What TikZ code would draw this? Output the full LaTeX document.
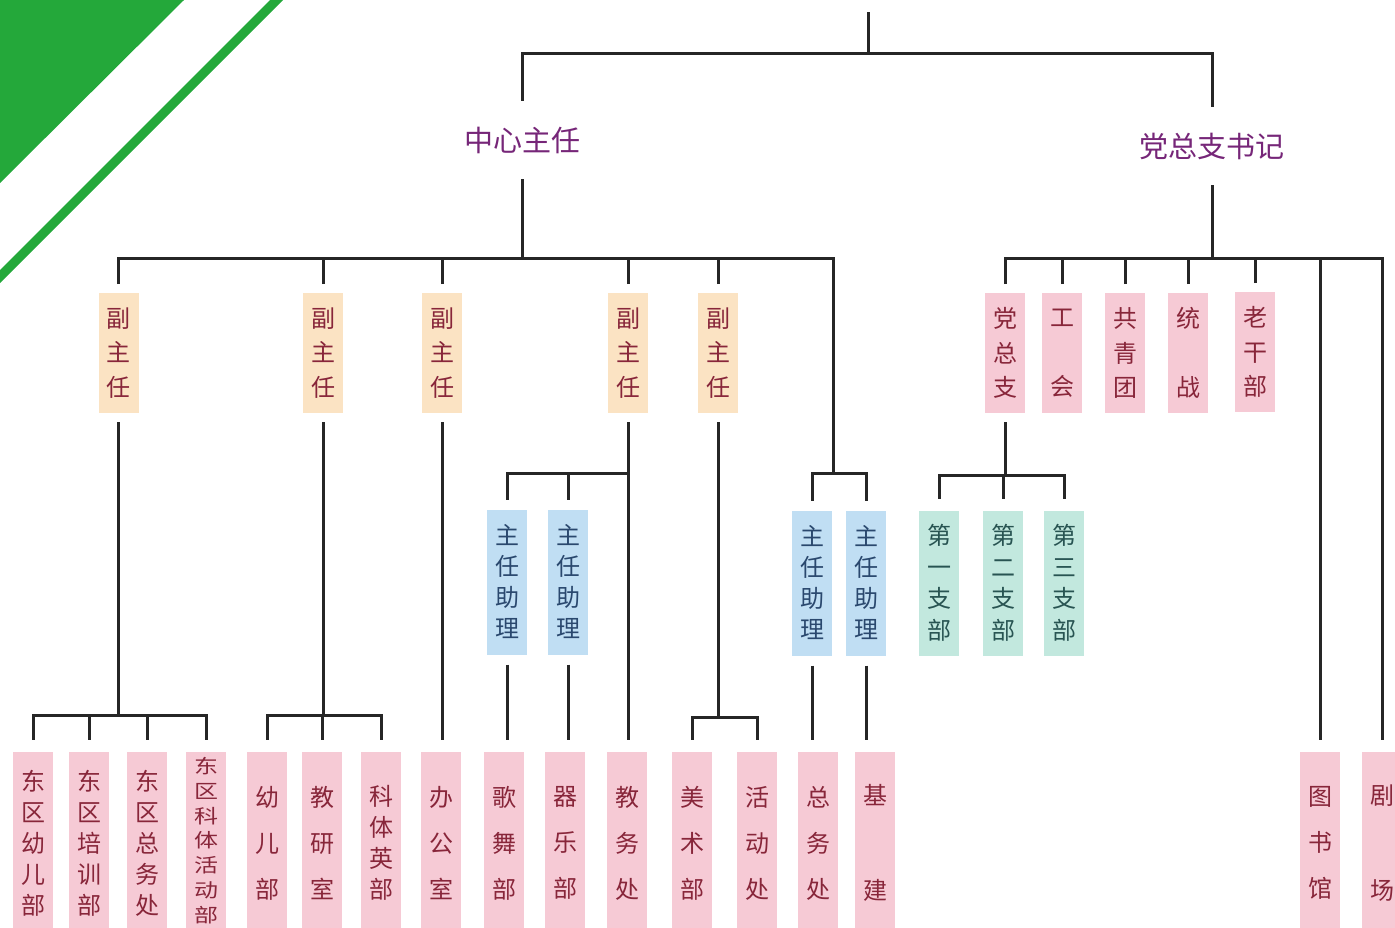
\documentclass[tikz,border=0pt]{standalone}
\usepackage{fontspec}
\usepackage{graphicx}
\newfontfamily\cjk{Noto Sans CJK SC}
\usetikzlibrary{positioning}

\definecolor{leafgreen}{RGB}{36,168,58}
\definecolor{peach}{RGB}{251,227,195}
\definecolor{rose}{RGB}{246,202,213}
\definecolor{sky}{RGB}{192,222,243}
\definecolor{mint}{RGB}{194,232,222}
\definecolor{wine}{RGB}{136,38,58}
\definecolor{navy}{RGB}{42,72,110}
\definecolor{pine}{RGB}{40,84,82}
\definecolor{plum}{RGB}{118,38,120}
\definecolor{ink}{RGB}{38,38,38}

\tikzset{
  post/.style={fill=#1,inner sep=0pt,minimum width=40pt,align=center},
  lead/.style={font=\cjk\fontsize{24}{#1}\selectfont},
  vice/.style={post=peach,minimum height=120pt,text=wine,lead=34.5,outer ysep=9pt},
  party/.style={post=rose,minimum height=120pt,text=wine,lead=34.5,outer ysep=9pt},
  aide/.style={post=sky,minimum height=145pt,text=navy,lead=31,outer ysep=10pt},
  branch/.style={post=mint,minimum height=145pt,text=pine,lead=31.5,outer ysep=12pt},
  dept/.style={post=rose,minimum height=183pt,text=wine,lead=31,outer ysep=12pt},
  head/.style={text=plum,font=\cjk\fontsize{29}{34}\selectfont,inner sep=0pt,outer ysep=26pt},
  link/.style={draw=ink,line width=3pt}
}

\begin{document}
\begin{tikzpicture}[x=1pt,y=-1pt]
\useasboundingbox (0,0) rectangle (1395,927);
\fill[leafgreen] (0,0) -- (184,0) -- (0,183) -- cycle;
\fill[leafgreen] (270,0) -- (283,0) -- (0,283) -- (0,270) -- cycle;

% heads
\node[head] (zr) at (522,140) {中心主任};
\node[head] (ds) at (1212,146) {党总支书记};

% deputies
\node[vice] (f1) at (118.5,353) {副\\主\\任};
\node[vice] (f2) at (323,353) {副\\主\\任};
\node[vice] (f3) at (442,353) {副\\主\\任};
\node[vice] (f4) at (628,353) {副\\主\\任};
\node[vice] (f5) at (718,353) {副\\主\\任};

% party side
\node[party] (p1) at (1005,353) {党\\总\\支};
\node[party,lead=69] (p2) at (1062,353) {工\\会};
\node[party] (p3) at (1125,353) {共\\青\\团};
\node[party,lead=69] (p4) at (1188,353) {统\\战};
\node[party] (p5) at (1255,352) {老\\干\\部};

% assistants
\node[aide] (a1) at (507,582) {主\\任\\助\\理};
\node[aide] (a2) at (568,582) {主\\任\\助\\理};
\node[aide] (a3) at (812,583) {主\\任\\助\\理};
\node[aide] (a4) at (866,583) {主\\任\\助\\理};

\node[branch] (g1) at (939,583) {第\\一\\支\\部};
\node[branch] (g2) at (1003,583) {第\\二\\支\\部};
\node[branch] (g3) at (1064,583) {第\\三\\支\\部};

% departments
\node[dept] (b1) at (33,843) {东\\区\\幼\\儿\\部};
\node[dept] (b2) at (89,843) {东\\区\\培\\训\\部};
\node[dept] (b3) at (147,843) {东\\区\\总\\务\\处};
\node[dept] (b4) at (206,843)
  {\scalebox{1}[0.8]{\begin{tabular}{@{}c@{}}东\\区\\科\\体\\活\\动\\部\end{tabular}}};
\node[dept,lead=46] (b5) at (267,843) {幼\\儿\\部};
\node[dept,lead=46] (b6) at (322,843) {教\\研\\室};
\node[dept] (b7) at (381,843) {科\\体\\英\\部};
\node[dept,lead=46] (b8) at (441,843) {办\\公\\室};
\node[dept,lead=46] (b9) at (504,843) {歌\\舞\\部};
\node[dept,lead=46] (b10) at (565,843) {器\\乐\\部};
\node[dept,lead=46] (b11) at (627,843) {教\\务\\处};
\node[dept,lead=46] (b12) at (692,843) {美\\术\\部};
\node[dept,lead=46] (b13) at (757,843) {活\\动\\处};
\node[dept,lead=46] (b14) at (818,843) {总\\务\\处};
\node[dept,lead=95] (b15) at (875,843) {基\\建};
\node[dept,lead=46] (b16) at (1320,843) {图\\书\\馆};
\node[dept,lead=95] (b17) at (1382,843) {剧\\场};

% top
\coordinate (apex) at (868,12);
\coordinate (hub) at (868,53);
\draw[link] (apex) -- (hub);
\draw[link] (zr.north) |- (hub) -| (ds.north);

% centre director
\coordinate (r1) at (zr.south |- 0,258);
\draw[link] (zr.south) -- (r1);
\foreach \n in {f1,f2,f3,f4,f5}
  \draw[link] (\n.north) |- (r1);
\coordinate (c1) at (833,473);
\draw[link] (r1) -| (c1);
\draw[link] (a3.north) |- (c1) -| (a4.north);

\coordinate (j1) at (f1.south |- 0,715);
\draw[link] (f1.south) -- (j1);
\draw[link] (b1.north) |- (j1) -| (b4.north);
\draw[link] (b2.north) |- (j1);
\draw[link] (b3.north) |- (j1);

\coordinate (j2) at (f2.south |- 0,715);
\draw[link] (f2.south) -- (j2);
\draw[link] (b5.north) |- (j2) -| (b7.north);
\draw[link] (b6.north) |- (j2);

\draw[link] (f3.south) -- (f3.south |- b8.north);

\coordinate (c2) at (f4.south |- 0,473);
\draw[link] (f4.south) -- (f4.south |- b11.north);
\draw[link] (a1.north) |- (c2);
\draw[link] (a2.north) |- (c2);
\draw[link] (a1.south) -- (a1.south |- b9.north);
\draw[link] (a2.south) -- (a2.south |- b10.north);

\coordinate (j3) at (f5.south |- 0,717);
\draw[link] (f5.south) -- (j3);
\draw[link] (b12.north) |- (j3) -| (b13.north);

\draw[link] (a3.south) -- (a3.south |- b14.north);
\draw[link] (a4.south) -- (a4.south |- b15.north);

% party secretary
\coordinate (r2) at (ds.south |- 0,258);
\draw[link] (ds.south) -- (r2);
\foreach \n in {p1,p2,p3,p4,p5}
  \draw[link] (\n.north) |- (r2);
\draw[link] (r2) -| (b16.north);
\draw[link] (r2) -| (b17.north);

\coordinate (j4) at (p1.south |- 0,475);
\draw[link] (p1.south) -- (j4);
\draw[link] (g1.north) |- (j4) -| (g3.north);
\draw[link] (g2.north) |- (j4);
\end{tikzpicture}
\end{document}
